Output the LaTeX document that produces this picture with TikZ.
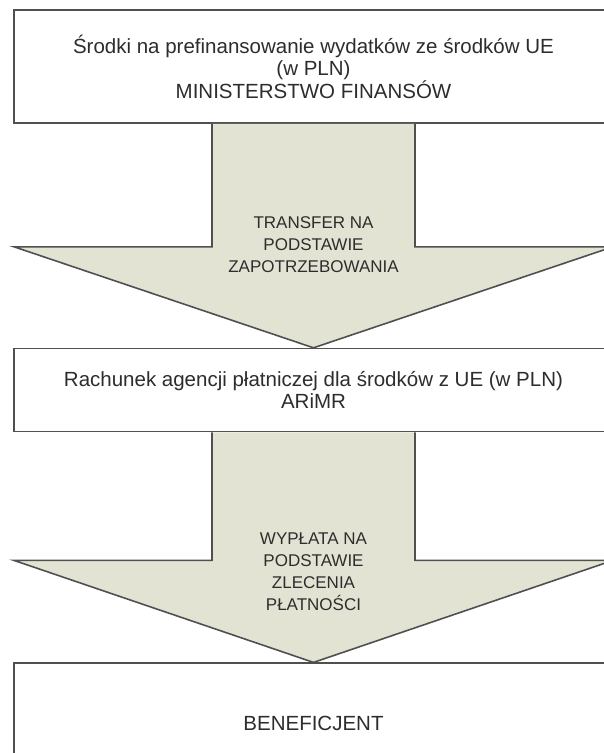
\documentclass[tikz,border=0pt]{standalone}
\usepackage{fontspec}
\setmainfont{Liberation Sans}
\usetikzlibrary{positioning}
\definecolor{arrowfill}{RGB}{227,227,212}
\definecolor{edge}{RGB}{80,80,80}
\definecolor{ink}{RGB}{45,45,45}

\begin{document}
\begin{tikzpicture}[x=1pt,y=-1pt,
    box/.style={draw=edge,line width=1.6pt,fill=white,minimum width=599pt,
      inner sep=0pt,align=center,text=ink,font=\fontsize{20.5}{22}\selectfont},
    flow/.style={draw=edge,line width=1.6pt,fill=arrowfill,line join=miter},
    flowtext/.style={align=center,text=ink,font=\fontsize{17}{22}\selectfont}]
  \clip (0,0) rectangle (604,753);
  % boxes
  \node[box,minimum height=113pt] (mf) at (313.5,66.5)
    {Środki na prefinansowanie wydatków ze środków UE\\(w PLN)\\MINISTERSTWO FINANSÓW};
  \node[box,minimum height=83pt,below=224pt of mf] (ag)
    {Rachunek agencji płatniczej dla środków z UE (w PLN)\\ARiMR};
  \node[box,minimum height=120pt,below=230pt of ag] (ben) {BENEFICJENT};
  % block arrows
  \draw[flow] ([xshift=-101.5pt]mf.south) -- ++(0,123) -- ++(-198,0) -- (ag.north)
    -- ++(299.5,-101) -- ++(-198,0) -- ([xshift=101.5pt]mf.south);
  \draw[flow] ([xshift=-101.5pt]ag.south) -- ++(0,128) -- ++(-198,0) -- (ben.north)
    -- ++(299.5,-102) -- ++(-198,0) -- ([xshift=101.5pt]ag.south);
  \node[flowtext] (t1) at (313.5,245) {TRANSFER NA\\PODSTAWIE\\ZAPOTRZEBOWANIA};
  \node[flowtext] (t2) at (313.5,572) {WYPŁATA NA\\PODSTAWIE\\ZLECENIA\\PŁATNOŚCI};
\end{tikzpicture}
\end{document}
